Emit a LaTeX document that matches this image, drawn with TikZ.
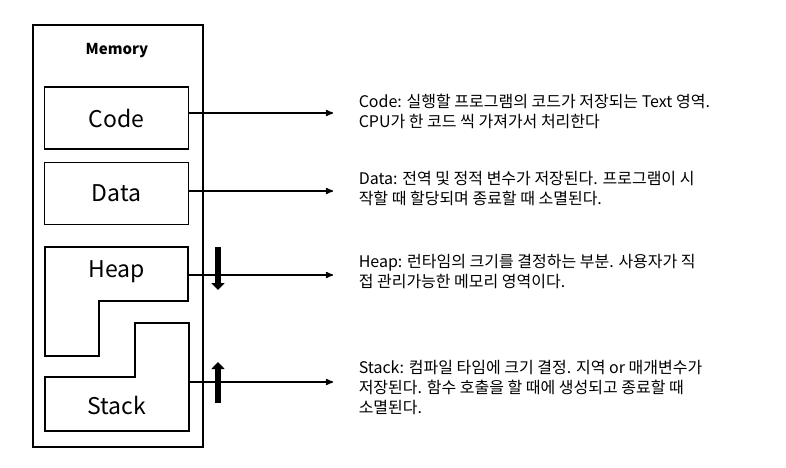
\documentclass[tikz,border=0pt]{standalone}
\usepackage{fontspec}
\setmainfont{Noto Sans CJK KR}
\usepackage{tikz}
\usetikzlibrary{arrows, arrows.meta, positioning}

\begin{document}
\begin{tikzpicture}[x=1pt, y=-1pt, >=stealth', line width=1.5pt,
	segment/.style={draw, minimum width=144pt, minimum height=62pt, inner sep=0pt, font=\fontsize{23}{26}\selectfont},
	desc/.style={anchor=west, align=left, inner sep=0pt, font=\fontsize{16}{20}\selectfont},
	growarrow/.style={line width=6pt, -{Triangle[length=7pt, width=13pt]}}]
	\useasboundingbox (0,0) rectangle (786,467);

	\node[draw, minimum width=170pt, minimum height=422pt, inner sep=0pt] (memory) at (118,236) {};
	\node[font=\bfseries\fontsize{15}{18}\selectfont] (memlabel) at (117,51) {Memory};
	\node[segment] (code) at (116.5,118) {Code};
	\node[segment] (data) at (116.5,193.5) {Data};

	% heap and stack are not boxes
	\draw (45,247) -- (188,247) -- (188,301) -- (99,301) -- (99,356) -- (45,356) -- cycle;
	\node[font=\fontsize{23}{26}\selectfont] (heap) at (117,272) {Heap};
	\draw (135,323) -- (189,323) -- (189,431) -- (45,431) -- (45,377) -- (135,377) -- cycle;
	\node[font=\fontsize{23}{26}\selectfont] (stack) at (117,405) {Stack};
	\coordinate (heapR) at (188,275);
	\coordinate (stackR) at (189,382);

	\coordinate (codeend) at (333,113);
	\coordinate (dataend) at (333,191);
	\coordinate (heapend) at (333,275);
	\coordinate (stackend) at (333,382);

	\node[desc] (codetxt) at (358,111) {Code: 실행할 프로그램의 코드가 저장되는 Text 영역.\\CPU가 한 코드 씩 가져가서 처리한다};
	\node[desc] (datatxt) at (358,189) {Data: 전역 및 정적 변수가 저장된다. 프로그램이 시\\작할 때 할당되며 종료할 때 소멸된다.};
	\node[desc] (heaptxt) at (358,272) {Heap: 런타임의 크기를 결정하는 부분. 사용자가 직\\접 관리가능한 메모리 영역이다.};
	\node[desc] (stacktxt) at (358,388) {Stack: 컴파일 타임에 크기 결정. 지역 or 매개변수가\\저장된다. 함수 호출을 할 때에 생성되고 종료할 때\\소멸된다.};

	\path[->] (code.east |- codeend) edge (codeend)
	         (data.east |- dataend) edge (dataend)
	         (heapR) edge (heapend)
	         (stackR) edge (stackend);

	\coordinate (heaptop) at (218,247);
	\coordinate (heapbot) at (218,290);
	\coordinate (stackbot) at (218,403);
	\coordinate (stacktop) at (218,362);
	\draw[growarrow] (heaptop) -- (heapbot);
	\draw[growarrow] (stackbot) -- (stacktop);
\end{tikzpicture}
\end{document}
